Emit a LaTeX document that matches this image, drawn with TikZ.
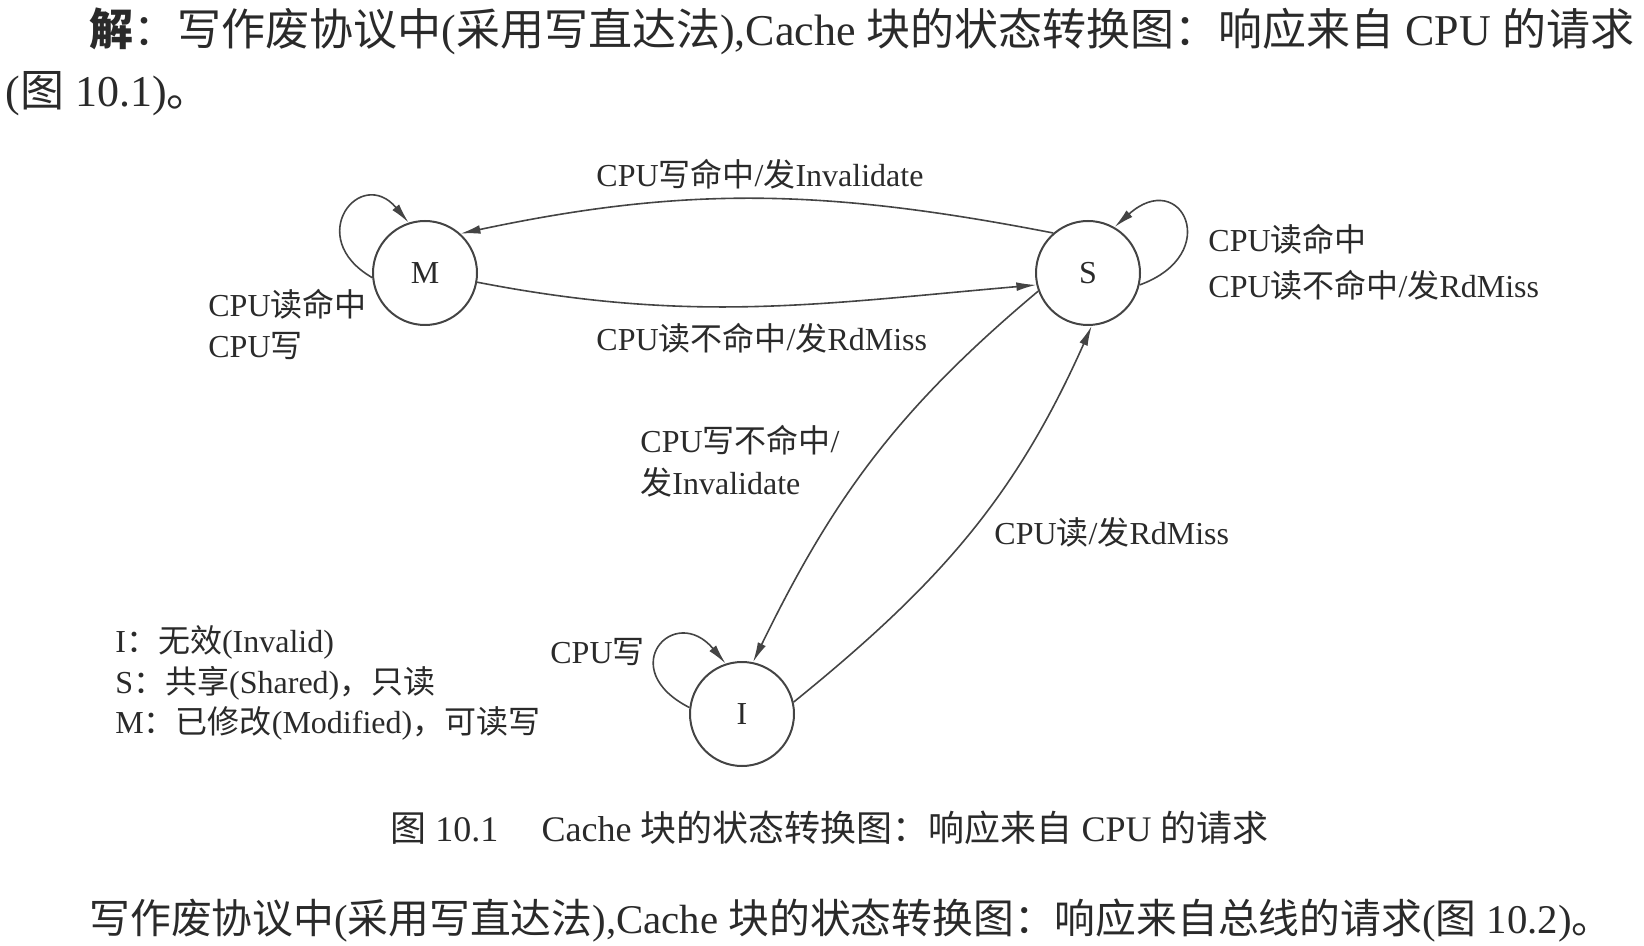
\documentclass[tikz,border=0pt]{standalone}
\usepackage{fontspec}
\setmainfont{Liberation Serif}
\newfontfamily\cjk{Noto Sans CJK SC}
\usetikzlibrary{arrows.meta}
\newcommand\zh[1]{{\cjk #1}}
\definecolor{ink}{HTML}{2A2A2A}
\definecolor{lineink}{HTML}{444444}
\begin{document}
\begin{tikzpicture}[x=0.5pt,y=0.5pt,
  state/.style={circle, draw=lineink, line width=1pt, minimum size=52pt, inner sep=0pt,
    font=\fontsize{16}{18}\selectfont, text=ink},
  arr/.style={draw=lineink, line width=0.8pt, -{Latex[length=10pt,width=4.4pt]}},
  lbl/.style={anchor=west, inner sep=0pt, text=ink, font=\fontsize{16}{21}\selectfont},
  para/.style={anchor=west, inner sep=0pt, text=ink}]
\useasboundingbox (0,0) rectangle (1644,-946);

% text lines
\node[para, font=\fontsize{22}{24}\selectfont] (line1) at (89,-31)
  {\zh{\bfseries 解}\zh{：写作废协议中}(\zh{采用写直达法}),Cache \zh{块的状态转换图：响应来自} CPU \zh{的请求}};
\node[para, font=\fontsize{22}{24}\selectfont] (line2) at (5,-94) {(\zh{图} 10.1)\zh{。}};
\node[para, font=\fontsize{20.4}{24}\selectfont] (line3) at (89,-921)
  {\zh{写作废协议中}(\zh{采用写直达法}),Cache \zh{块的状态转换图：响应来自总线的请求}(\zh{图} 10.2)\zh{。}};

% states
\node[state] (M) at (425,-273) {M};
\node[state] (S) at (1088,-273) {S};
\node[state] (I) at (742,-714) {I};

% transitions
\draw[arr] (S.131) to[out=169,in=12] (M.48);
\draw[arr] (M.-10) to[out=-11,in=185] (S.193);
\draw[arr] (S.200) to[out=220,in=64] (I.78);
\draw[arr] (I.13) to[out=39,in=246] (S.274);
\draw[arr] (M.185) .. controls +(150:80) and +(130:75) .. (M.108);
\draw[arr] (I.173) .. controls +(153:85) and +(130:80) .. (I.108);
\draw[arr] (S.-13) .. controls +(20:90) and +(42:90) .. (S.60);

% labels
\node[lbl] (tSM) at (596,-174) {CPU\zh{写命中}/\zh{发}Invalidate};
\node[lbl] (tMS) at (596,-338) {CPU\zh{读不命中}/\zh{发}RdMiss};
\node[lbl] (tM1) at (208,-304) {CPU\zh{读命中}};
\node[lbl] (tM2) at (208,-346) {CPU\zh{写}};
\node[lbl] (tS1) at (1208,-239) {CPU\zh{读命中}};
\node[lbl] (tS2) at (1208,-285) {CPU\zh{读不命中}/\zh{发}RdMiss};
\node[lbl, align=left] (tSI) at (640,-461) {CPU\zh{写不命中}/\\\zh{发}Invalidate};
\node[lbl] (tIS) at (994,-532) {CPU\zh{读}/\zh{发}RdMiss};
\node[lbl] (tI) at (550,-652) {CPU\zh{写}};

% legend
\node[lbl, align=left, font=\fontsize{16}{20.2}\selectfont] (leg) at (115,-683)
  {I\zh{：无效}(Invalid)\\S\zh{：共享}(Shared)\zh{，只读}\\M\zh{：已修改}(Modified)\zh{，可读写}};

% caption
\node[para, font=\fontsize{18}{20}\selectfont] (cap) at (390,-828)
  {\zh{图} 10.1\hspace{1.2em}Cache \zh{块的状态转换图：响应来自} CPU \zh{的请求}};
\end{tikzpicture}
\end{document}
